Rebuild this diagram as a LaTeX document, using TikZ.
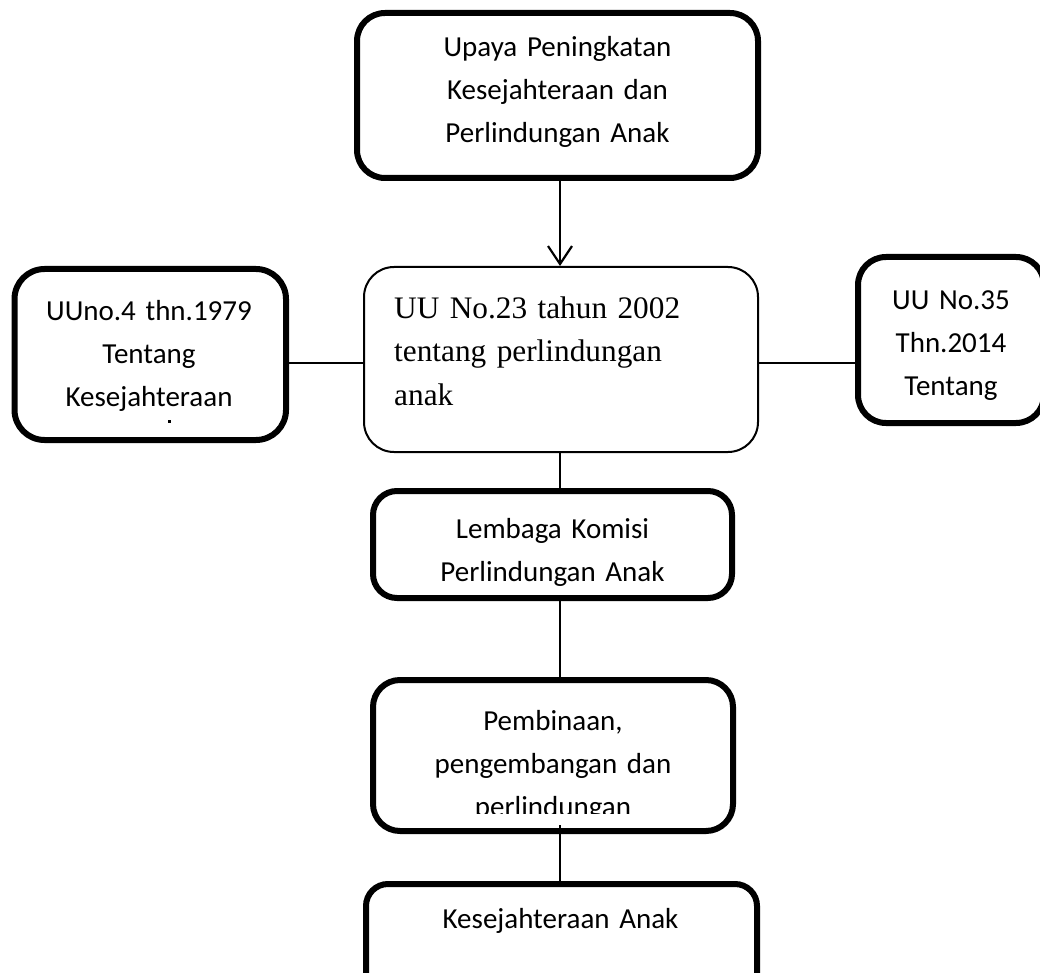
\documentclass[tikz,border=0pt]{standalone}
\usepackage{fontspec}
\setmainfont{Carlito}
\newfontfamily\tnr{Liberation Serif}
\usetikzlibrary{arrows.meta}
\tikzset{
  thickbox/.style={draw, line width=6pt, inner sep=0pt, rounded corners=28pt},
  thinbox/.style={draw, line width=2pt, inner sep=0pt, rounded corners=30pt},
  txt/.style={inner sep=0pt, anchor=base, align=center, text width=420pt,
    font=\fontsize{29}{43}\selectfont},
  ttxt/.style={inner sep=0pt, anchor=base west, align=left, text width=360pt,
    font=\tnr\fontsize{31.3}{43.5}\selectfont},
  conn/.style={line width=2.2pt},
}
\begin{document}
\begin{tikzpicture}[x=1pt,y=-1pt]
\useasboundingbox (0,0) rectangle (1040,973);
\coordinate (vx) at (560,0);
\coordinate (hy) at (0,363);
% boxes
\node[thickbox, minimum width=401pt, minimum height=165pt] (topbox) at (557.5,95.5) {};
\node[thickbox, minimum width=271.5pt, minimum height=171pt, rounded corners=30pt] (leftbox) at (150.25,354.5) {};
\node[thinbox, minimum width=394pt, minimum height=185pt] (midbox) at (561,359.5) {};
\node[thickbox, minimum width=186pt, minimum height=166pt] (rightbox) at (951,340) {};
\node[thickbox, minimum width=359pt, minimum height=107pt, rounded corners=24pt] (lembox) at (552.5,544.5) {};
\node[thickbox, minimum width=360pt, minimum height=151pt, rounded corners=27pt] (pembox) at (553,755.5) {};
\node[thickbox, minimum width=391pt, minimum height=126pt, rounded corners=22pt] (botbox) at (561.5,947) {};
% texts
\node[txt] (toptext) at (557.5,57) {Upaya Peningkatan\\Kesejahteraan dan\\Perlindungan Anak};
\node[txt, text width=260pt] (lefttext) at (149,320) {UUno.4 thn.1979\\Tentang\\Kesejahteraan};
\fill (168,420) rectangle (171,422.5);
\node[ttxt] (midtext) at (394,318) {UU No.23 tahun 2002\\tentang perlindungan\\anak};
\node[txt, text width=180pt] (righttext) at (951,309) {UU No.35\\Thn.2014\\Tentang};
\node[txt] (lemtext) at (552.5,538) {Lembaga Komisi\\Perlindungan Anak};
\begin{scope}
\clip (0,0) rectangle (1040,813);
\node[txt] (pemtext) at (553,730) {Pembinaan,\\pengembangan dan\\perlindungan};
\end{scope}
\node[txt] (bottext) at (560.5,928) {Kesejahteraan Anak};
% connectors
\draw[conn, -{Straight Barb[length=18pt,width=24pt]}] (topbox.south -| vx) -- (midbox.north -| vx);
\draw[conn] (leftbox.east |- hy) -- (midbox.west |- hy);
\draw[conn] (midbox.east |- hy) -- (rightbox.west |- hy);
\draw[conn] (midbox.south -| vx) -- (lembox.north -| vx);
\draw[conn] (lembox.south -| vx) -- (pembox.north -| vx);
\draw[conn] ([yshift=9pt]pembox.south -| vx) -- (botbox.north -| vx);
\end{tikzpicture}
\end{document}
